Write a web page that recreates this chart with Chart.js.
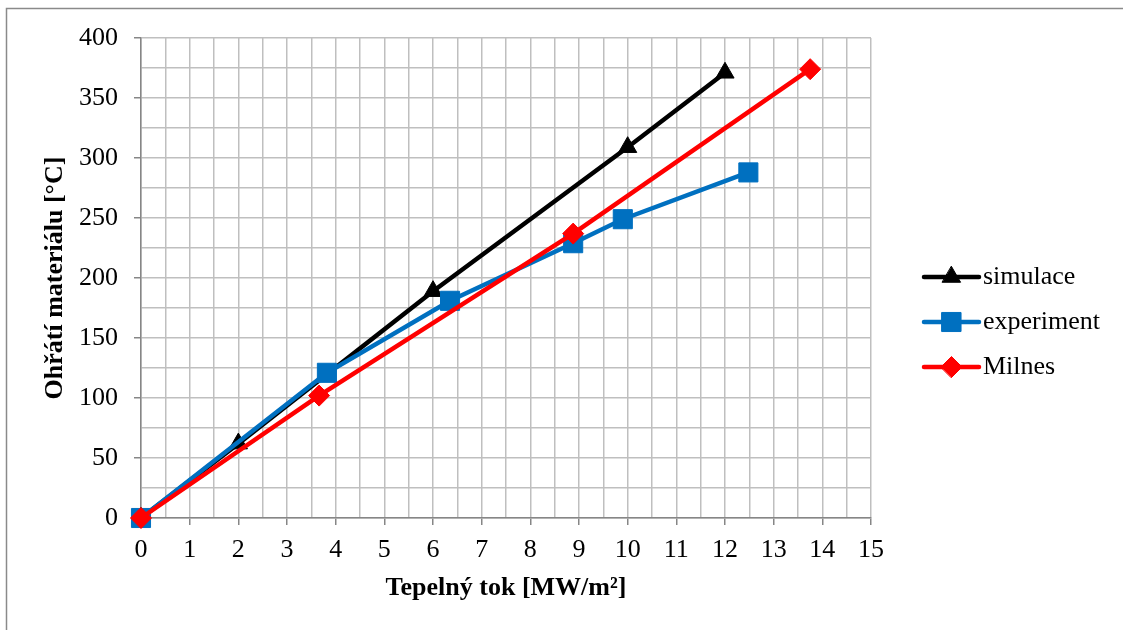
<!DOCTYPE html>
<html>
<head>
<meta charset="utf-8">
<script src="https://cdn.jsdelivr.net/npm/chart.js@4.4.1/dist/chart.umd.min.js"></script>
<style>
  html, body { margin: 0; padding: 0; background: #fff; }
  #wrap { width: 1123px; height: 630px; }
</style>
</head>
<body>
<div id="wrap"><canvas id="c" width="1123" height="630"></canvas></div>
<script>
// Heat flux [MW/m²] vs. material temperature rise [°C]
const seriesNames = ['simulace', 'experiment', 'Milnes'];

const simulaceX = [0, 2, 6, 10, 12];
const simulaceY = [0, 62, 189, 309, 371];

const experimentX = [0, 3.82, 6.35, 8.88, 9.9, 12.48];
const experimentY = [0, 121, 181, 229, 249, 288];

const milnesX = [0, 3.66, 8.88, 13.75];
const milnesY = [0, 102, 237, 374];

const xTitle = 'Tepelný tok [MW/m²]';
const yTitle = 'Ohřátí materiálu [°C]';

const SERIF = '"Liberation Serif", "Times New Roman", serif';
const GRID = '#bfbfbf';
const AXIS = '#868686';

function pairs(xs, ys) { return xs.map((x, i) => ({ x: x, y: ys[i] })); }

function lineSet(label, xs, ys, color, style, radius, order) {
  return {
    label: label,
    data: pairs(xs, ys),
    showLine: true,
    borderColor: color,
    backgroundColor: color,
    borderWidth: 4.5,
    pointStyle: style,
    pointRadius: radius,
    pointHoverRadius: radius,
    pointBorderWidth: 1,
    pointBackgroundColor: color,
    pointBorderColor: color,
    tension: 0,
    clip: false,
    order: order
  };
}

// outer frame of the chart object
const framePlugin = {
  id: 'frame',
  beforeDraw(chart) {
    const ctx = chart.ctx;
    ctx.save();
    ctx.fillStyle = '#fff';
    ctx.fillRect(0, 0, chart.width, chart.height);
    ctx.strokeStyle = '#8a8a8a';
    ctx.lineWidth = 1.5;
    ctx.strokeRect(6.5, 8.5, chart.width + 20, chart.height + 20);
    ctx.restore();
  }
};

// legend: line segment with the marker in its middle, text to the right
const sideLegend = {
  id: 'sideLegend',
  afterDraw(chart) {
    const ctx = chart.ctx;
    const x0 = 924, x1 = 979, tx = 983;
    const y0 = 277, gap = 45;
    ctx.save();
    chart.data.datasets.forEach((ds, i) => {
      const y = y0 + i * gap;
      ctx.strokeStyle = ds.borderColor;
      ctx.lineWidth = ds.borderWidth;
      ctx.lineCap = 'round';
      ctx.beginPath();
      ctx.moveTo(x0, y);
      ctx.lineTo(x1, y);
      ctx.stroke();
      ctx.fillStyle = ds.pointBackgroundColor;
      ctx.strokeStyle = ds.pointBorderColor;
      ctx.lineWidth = ds.pointBorderWidth;
      Chart.helpers.drawPoint(ctx, {
        pointStyle: ds.pointStyle,
        radius: ds.pointRadius,
        rotation: 0,
        borderWidth: ds.pointBorderWidth
      }, (x0 + x1) / 2, y);
      ctx.fillStyle = '#000';
      ctx.font = '26px ' + SERIF;
      ctx.textBaseline = 'middle';
      ctx.textAlign = 'left';
      ctx.fillText(ds.label, tx, y);
    });
    ctx.restore();
  }
};

new Chart(document.getElementById('c'), {
  type: 'scatter',
  data: {
    datasets: [
      lineSet(seriesNames[0], simulaceX, simulaceY, '#000000', 'triangle', 10.5, 3),
      lineSet(seriesNames[1], experimentX, experimentY, '#0070C0', 'rect', 13.5, 2),
      lineSet(seriesNames[2], milnesX, milnesY, '#FF0000', 'rectRot', 10.5, 1)
    ]
  },
  options: {
    responsive: false,
    animation: false,
    events: [],
    layout: { padding: { left: 0, right: 252, top: 38, bottom: 0 } },
    plugins: {
      legend: { display: false },
      tooltip: { enabled: false }
    },
    scales: {
      x: {
        type: 'linear',
        min: 0,
        max: 15,
        afterFit(scale) { scale.height = 112; },
        ticks: {
          stepSize: 0.5,
          autoSkip: false,
          maxRotation: 0,
          padding: 10,
          color: '#000',
          font: { family: SERIF, size: 26 },
          callback: (v) => (Number.isInteger(v) ? String(v) : '')
        },
        grid: {
          color: GRID,
          lineWidth: 1.5,
          tickLength: 7,
          tickWidth: 1.5,
          tickColor: (c) => (c.tick && Number.isInteger(c.tick.value) ? AXIS : 'rgba(0,0,0,0)')
        },
        border: { color: AXIS, width: 1.5 },
        title: {
          display: true,
          text: xTitle,
          color: '#000',
          font: { family: SERIF, size: 26, weight: 'bold', lineHeight: 1.2 },
          padding: { top: 0, bottom: 26 }
        }
      },
      y: {
        type: 'linear',
        min: 0,
        max: 400,
        afterFit(scale) { scale.width = 141; },
        ticks: {
          stepSize: 25,
          autoSkip: false,
          padding: 16,
          color: '#000',
          font: { family: SERIF, size: 26 },
          callback: (v) => (v % 50 === 0 ? String(v) : '')
        },
        grid: {
          color: GRID,
          lineWidth: 1.5,
          tickLength: 7,
          tickWidth: 1.5,
          tickColor: (c) => (c.tick && c.tick.value % 50 === 0 ? AXIS : 'rgba(0,0,0,0)')
        },
        border: { color: AXIS, width: 1.5 },
        title: {
          display: true,
          text: yTitle,
          color: '#000',
          font: { family: SERIF, size: 26, weight: 'bold', lineHeight: 1.2 },
          padding: { top: 40, bottom: 0 }
        }
      }
    }
  },
  plugins: [framePlugin, sideLegend]
});
</script>
</body>
</html>
